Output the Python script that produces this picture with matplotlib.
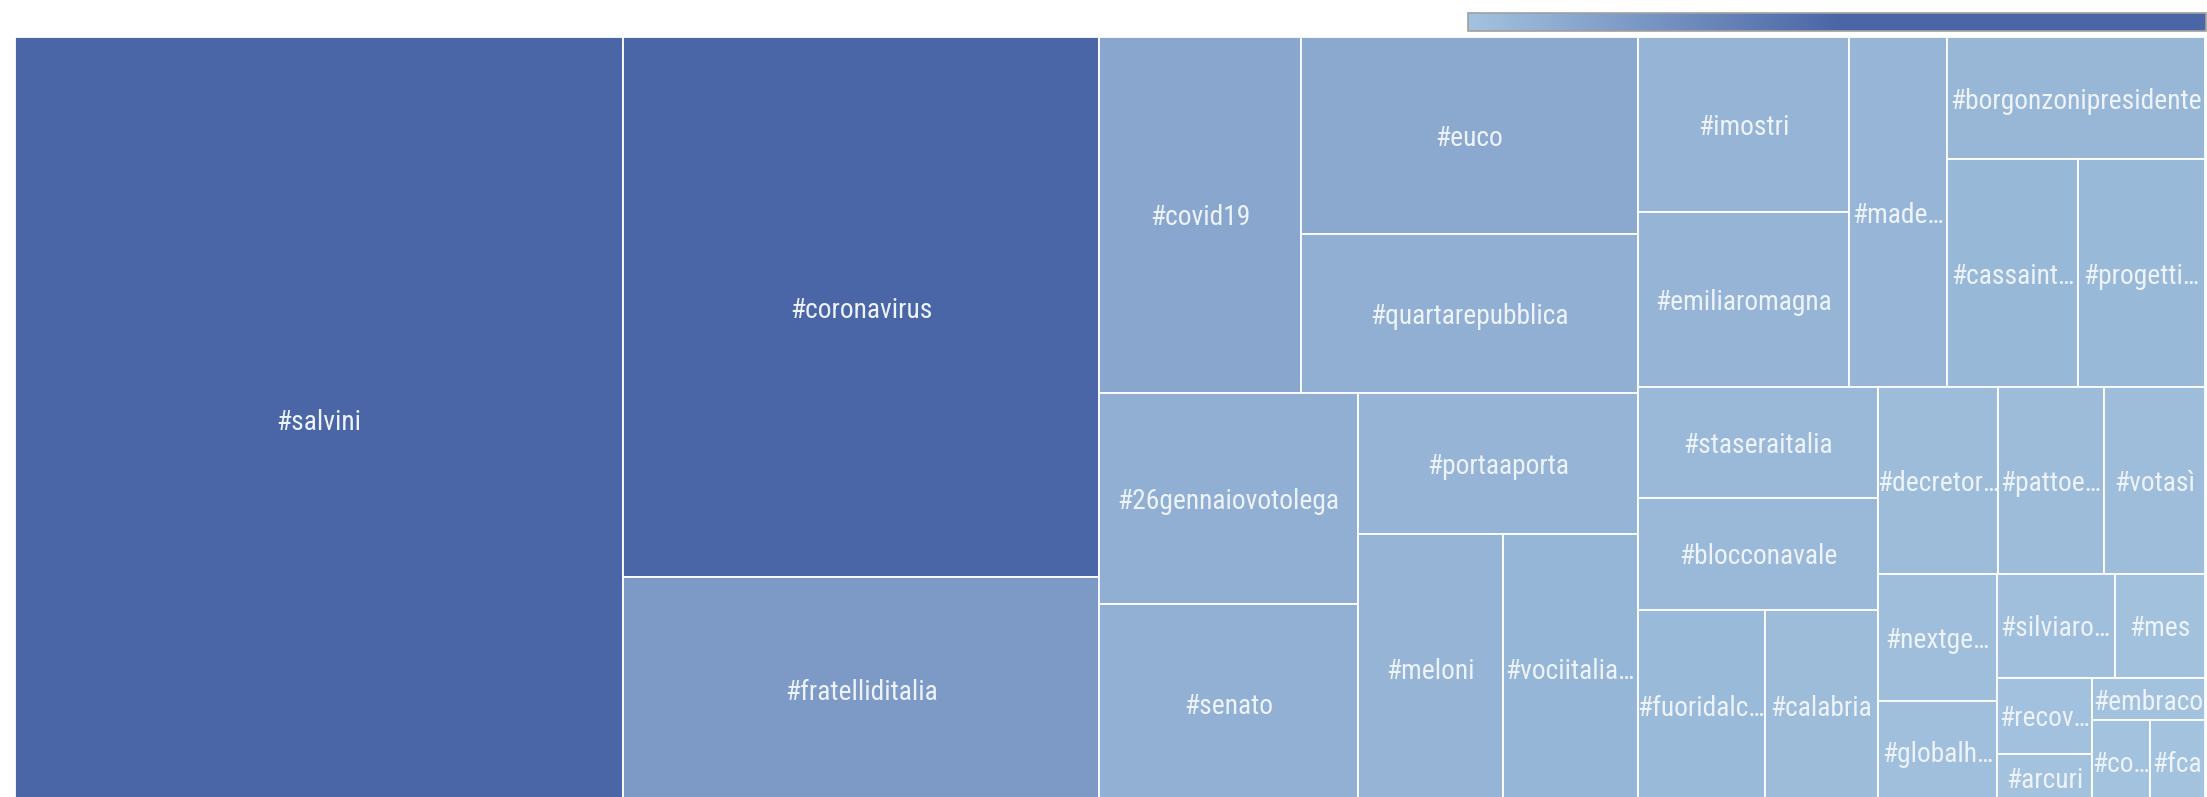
import matplotlib
matplotlib.use('Agg')
import matplotlib.pyplot as plt
from matplotlib.colors import LinearSegmentedColormap, Normalize
from matplotlib.patches import Rectangle
import matplotlib.cm as cm

# ---------------- data ----------------
tags = ["#salvini", "#coronavirus", "#fratelliditalia", "#covid19", "#euco",
        "#quartarepubblica", "#26gennaiovotolega", "#senato", "#portaaporta",
        "#meloni", "#vociitalia…", "#imostri", "#emiliaromagna", "#made…",
        "#borgonzonipresidente", "#cassaint…", "#progetti…", "#staseraitalia",
        "#blocconavale", "#fuoridalc…", "#calabria", "#decretor…", "#pattoe…",
        "#votasì", "#nextge…", "#globalh…", "#silviaro…", "#mes", "#recov…",
        "#arcuri", "#embraco", "#co…", "#fca"]
counts = [4651, 2572, 1070, 719, 663, 534, 547, 511, 396, 387, 362,
          371, 370, 342, 315, 299, 290, 266, 269, 244, 218, 223, 197,
          188, 151, 119, 123, 94, 73, 46, 48, 47, 45]
# binary nesting of the tiles (indices into tags/counts)
tree = [[0, [1, 2]],
        [[[3, [4, 5]], [[6, 7], [8, [9, 10]]]],
         [[[11, 12], [13, [14, [15, 16]]]],
          [[17, [18, [19, 20]]],
           [[21, [22, 23]],
            [[24, 25], [[26, 27], [[28, 29], [30, [31, 32]]]]]]]]]]

fam = ['Roboto Condensed', 'Liberation Sans Narrow', 'Roboto', 'DejaVu Sans']

W, H, DPI = 2207, 797, 100
fig = plt.figure(figsize=(W / DPI, H / DPI), dpi=DPI)
PAD = 3
ax = fig.add_axes([0, -PAD / H, 1, (H + PAD) / H])
ax.set_xlim(0, W)
ax.set_ylim(H + PAD, 0)
ax.axis('off')

light, dark = '#a2c2de', '#4b66a6'
cmap = LinearSegmentedColormap.from_list('tm', [(0, light), (0.5, dark), (1, dark)])
norm = Normalize(vmin=min(counts), vmax=max(counts))


def total(n):
    return counts[n] if isinstance(n, int) else sum(total(c) for c in n)


def layout(n, x0, y0, x1, y1, out):
    if isinstance(n, int):
        out[n] = (x0, y0, x1, y1)
        return
    a, b = n
    f = total(a) / (total(a) + total(b))
    if (x1 - x0) > (y1 - y0):
        xm = x0 + f * (x1 - x0)
        layout(a, x0, y0, xm, y1, out)
        layout(b, xm, y0, x1, y1, out)
    else:
        ym = y0 + f * (y1 - y0)
        layout(a, x0, y0, x1, ym, out)
        layout(b, x0, ym, x1, y1, out)


rects = {}
layout(tree, 15, 37, 2205, 802, rects)

for i, (x0, y0, x1, y1) in rects.items():
    ax.add_patch(Rectangle((x0, y0), x1 - x0, y1 - y0, facecolor=cmap(norm(counts[i])),
                           edgecolor='white', linewidth=1.3))
    ax.text((x0 + x1) / 2, (y0 + y1) / 2 + 3, tags[i], ha='center', va='center',
            color='#eef3f9', fontsize=19.8, family=fam, clip_on=True)

cax = fig.add_axes([1468 / W, 1 - 30.5 / H, 738 / W, 18 / H])
sm = cm.ScalarMappable(norm=norm, cmap=cmap)
cb = fig.colorbar(sm, cax=cax, orientation='horizontal')
cb.set_ticks([])
cb.outline.set_edgecolor('#a0a0a0')
cb.outline.set_linewidth(1.2)

fig.savefig('out.png', dpi=DPI)
